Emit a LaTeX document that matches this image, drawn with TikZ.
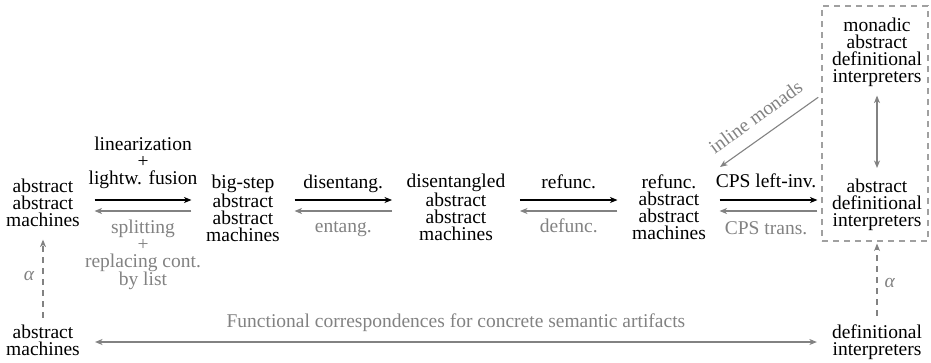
\documentclass[tikz,border=0pt]{standalone}
\usepackage{fontspec}
\setmainfont{Liberation Serif}
\usetikzlibrary{arrows.meta}
\definecolor{gr}{RGB}{130,130,130}
\definecolor{bx}{RGB}{160,160,160}
\newcommand\dfont{\fontsize{19.5}{17}\selectfont}
\begin{document}
\begin{tikzpicture}[x=1pt,y=-1pt,
  txt/.style={align=center, inner sep=0pt, font=\dfont},
  gtxt/.style={txt, text=gr},
  tipk/.style={-{Stealth[length=7.5pt,width=6pt,inset=2.2pt]}},
  blk/.style={tipk, line width=1.1pt, black, shorten <=14.5pt, shorten >=14.5pt},
  gry/.style={tipk, line width=1.1pt, draw=gr, shorten <=14.5pt, shorten >=14.5pt},
  gdbl/.style={{Stealth[length=7.5pt,width=6pt,inset=2.2pt]}-{Stealth[length=7.5pt,width=6pt,inset=2.2pt]}, line width=1.1pt, draw=gr},
  dsh/.style={dash pattern=on 6pt off 5pt},
  bllbl/.style={gtxt, anchor=base, yshift=-21pt}]
\useasboundingbox (0,0) rectangle (931,362);

% main nodes
\node[txt, anchor=north] (A)  at (43,179)  {abstract\\abstract\\machines};
\node[txt, anchor=north] (B)  at (243,175) {big-step\\abstract\\abstract\\machines};
\node[txt, anchor=north] (C)  at (456,174) {disentangled\\abstract\\abstract\\machines};
\node[txt, anchor=north] (D)  at (669,175) {refunc.\\abstract\\abstract\\machines};
\node[txt, anchor=north] (E)  at (877,179) {abstract\\definitional\\interpreters};
\node[txt, anchor=north] (M)  at (877,18)  {monadic\\abstract\\definitional\\interpreters};
\node[txt, anchor=north] (AM) at (43,325)  {abstract\\machines};
\node[txt, anchor=north] (DI) at (877,325) {definitional\\interpreters};
\node[draw=bx, line width=1.1pt, dsh, minimum width=106pt, minimum height=235pt, inner sep=0pt] (box) at (875,123.5) {};

% A <-> B
\draw[blk] (A.east |- 0,200) -- (B.west |- 0,200)
  node[midway, above=11pt, txt] {linearization\\+\\lightw. fusion};
\draw[gry] (B.west |- 0,211) -- (A.east |- 0,211)
  node[midway, below=8pt, gtxt] {splitting\\+\\replacing cont.\\by list};

% B <-> C
\draw[blk] (B.east |- 0,200) -- (C.west |- 0,200)
  node[midway, txt, anchor=base, yshift=12pt] {disentang.};
\draw[gry] (C.west |- 0,211) -- (B.east |- 0,211)
  node[midway, bllbl] {entang.};

% C <-> D
\draw[blk] (C.east |- 0,200) -- (D.west |- 0,200)
  node[midway, txt, anchor=base, yshift=12pt] {refunc.};
\draw[gry] (D.west |- 0,211) -- (C.east |- 0,211)
  node[midway, bllbl] {defunc.};

% D <-> box
\draw[blk, shorten >=4pt, shorten <=13.5pt] (D.east |- 0,200) -- (box.west |- 0,200)
  node[pos=0.52, txt, anchor=base, yshift=13pt] {CPS left-inv.};
\draw[gry, shorten <=4pt, shorten >=13.5pt] (box.west |- 0,211) -- (D.east |- 0,211)
  node[pos=0.48, bllbl, yshift=-2pt] {CPS trans.};

% inline monads
\coordinate (imE) at (720,167);
\draw[tipk, line width=1.1pt, draw=gr, shorten <=4pt] (box.west |- 0,95) -- (imE);
\node[gtxt, rotate=36] (iml) at (755.5,117) {inline monads};

% monadic <-> abstract definitional interpreters
\draw[gdbl, shorten <=8.5pt, shorten >=11pt] (M.south) -- (E.north);

% bottom correspondence
\draw[gdbl, shorten <=15pt, shorten >=15pt] (AM.east |- 0,342) -- (DI.west |- 0,342)
  node[midway, gtxt, anchor=base, yshift=14.5pt] {Functional correspondences for concrete semantic artifacts};

% alpha arrows
\draw[tipk, line width=1.1pt, draw=gr, dsh, shorten <=7.5pt, shorten >=12.5pt] (AM.north) -- (A.south)
  node[midway, left=8pt, gtxt] {\textit{α}};
\draw[tipk, line width=1.1pt, draw=gr, dsh, shorten <=9.5pt, shorten >=2pt] (DI.north) -- (DI.north |- box.south)
  node[midway, right=7pt, gtxt] {\textit{α}};
\end{tikzpicture}
\end{document}
